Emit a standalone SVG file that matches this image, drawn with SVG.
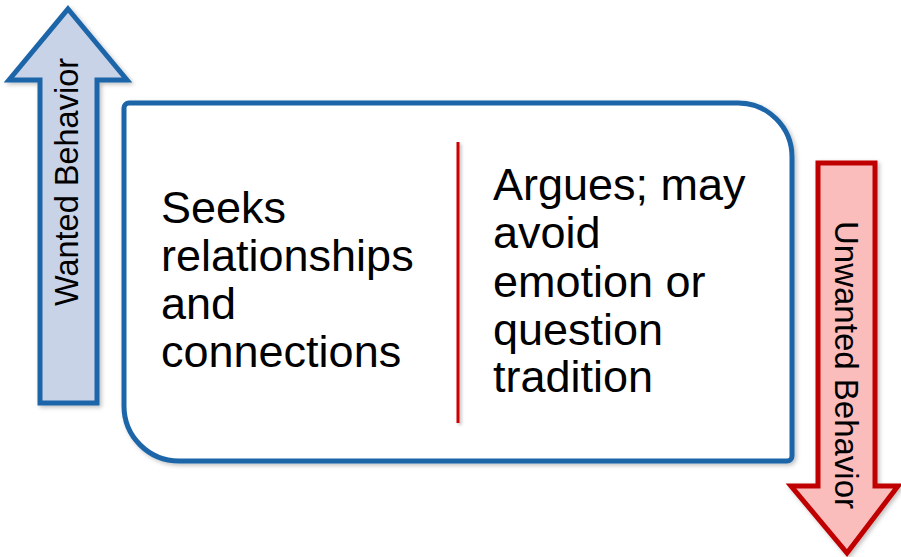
<svg xmlns="http://www.w3.org/2000/svg" width="901" height="557" viewBox="0 0 901 557">
  <defs>
    <filter id="sh" x="-10%" y="-10%" width="120%" height="120%">
      <feDropShadow dx="2" dy="2" stdDeviation="2" flood-color="#000" flood-opacity="0.25"/>
    </filter>
    <filter id="shl" filterUnits="userSpaceOnUse" x="440" y="130" width="40" height="310">
      <feDropShadow dx="2" dy="2" stdDeviation="1.5" flood-color="#000" flood-opacity="0.25"/>
    </filter>
  </defs>
  <style>
    .lbl { font-family: "Liberation Sans", Arial, sans-serif; fill: #000; }
    .main { font-size: 45px; }
    .side { font-size: 32.5px; }
  </style>
  <rect width="901" height="557" fill="#fff"/>
  <g id="wanted-arrow">
    <polygon points="68,9 127,80 97,80 97,403 40,403 40,80 9,80" fill="#c9d3e7" stroke="#1c65a8" stroke-width="5" stroke-linejoin="miter" filter="url(#sh)"/>
    <text class="lbl side" text-anchor="middle" transform="translate(78,182) rotate(-90)">Wanted Behavior</text>
  </g>
  <g id="main-box">
    <path d="M129,103 H738 A54,54 0 0 1 792,157 V456 A5,5 0 0 1 787,461 H179 A55,55 0 0 1 124,406 V108 A5,5 0 0 1 129,103 Z" fill="#fff" stroke="#1c65a8" stroke-width="5" filter="url(#sh)"/>
  </g>
  <g id="divider">
    <line x1="458" y1="142" x2="458" y2="423" stroke="#cc0000" stroke-width="3" filter="url(#shl)"/>
  </g>
  <g id="wanted-text">
    <text class="lbl main" x="161">
      <tspan x="161" y="223">Seeks</tspan>
      <tspan x="161" y="271">relationships</tspan>
      <tspan x="161" y="319">and</tspan>
      <tspan x="161" y="367">connections</tspan>
    </text>
  </g>
  <g id="unwanted-text">
    <text class="lbl main" x="493">
      <tspan x="493" y="200">Argues; may</tspan>
      <tspan x="493" y="248">avoid</tspan>
      <tspan x="493" y="297">emotion or</tspan>
      <tspan x="493" y="345">question</tspan>
      <tspan x="493" y="392">tradition</tspan>
    </text>
  </g>
  <g id="unwanted-arrow">
    <polygon points="818,163 875,163 875,486 898,486 847,553 791,486 818,486" fill="#fbbcbc" stroke="#c00000" stroke-width="5" stroke-linejoin="miter" filter="url(#sh)"/>
    <text class="lbl side" text-anchor="middle" transform="translate(835,365) rotate(90)" style="font-size:33px">Unwanted Behavior</text>
  </g>
</svg>
